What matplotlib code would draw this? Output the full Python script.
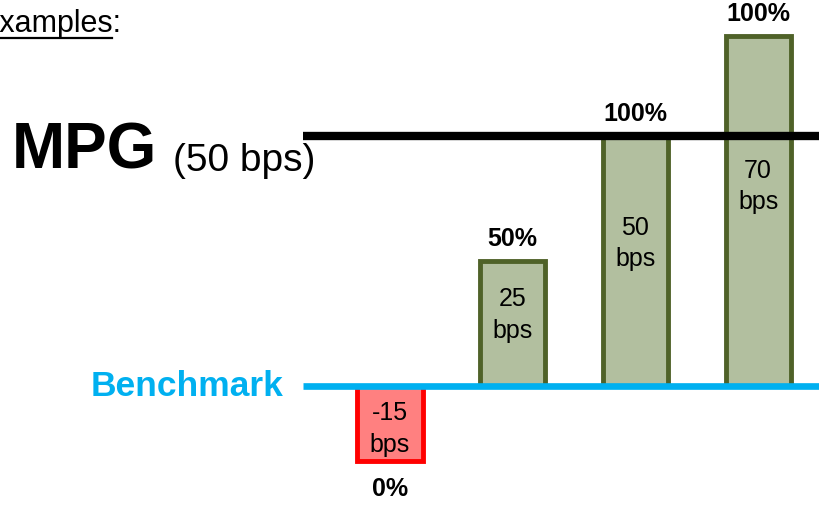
import matplotlib.pyplot as plt
from matplotlib.lines import Line2D

# data
bps = [-15, 25, 50, 70]
payout = ["0%", "50%", "100%", "100%"]
mpg_bps = 50
benchmark_bps = 0

SANS = ["Liberation Sans", "DejaVu Sans"]
plt.rcParams["font.family"] = SANS

fig = plt.figure(figsize=(8.19, 5.14), dpi=100)
ax = fig.add_axes([0, 0, 1, 1])
# 5 px per bps, benchmark at y=386 px
ax.set_ylim(-25.6, 77.2)
ax.set_xlim(-3.178, 3.496)
ax.axis("off")

x = list(range(len(bps)))
fill = ["#FF8080" if v < 0 else "#B2BF9F" for v in bps]
edge = ["#FF0000" if v < 0 else "#4F6228" for v in bps]
ax.bar(x, bps, width=0.53, color=fill, edgecolor=edge, linewidth=3.5, zorder=2)

# benchmark and MPG lines
ax.plot([-0.709, 3.6], [benchmark_bps, benchmark_bps], color="#00B0F0", lw=4.8, zorder=3,
        solid_capstyle="butt")
ax.plot([-0.709, 3.6], [mpg_bps, mpg_bps], color="black", lw=6, zorder=4,
        solid_capstyle="butt")

for i, v in enumerate(bps):
    ax.text(i, v * 0.57, f"{v}\nbps", ha="center", va="center", fontsize=18,
            linespacing=1.4, zorder=5)
    if v >= 0:
        ax.text(i, v + 4.4, payout[i], ha="center", va="center", fontsize=18,
                fontweight="bold", zorder=5)
    else:
        ax.text(i, v - 5.6, payout[i], ha="center", va="center", fontsize=18,
                fontweight="bold", zorder=5)

ax.text(-0.87, benchmark_bps, "Benchmark", ha="right", va="center", fontsize=25.5,
        fontweight="bold", color="#00B0F0")
ax.text(-3.08, mpg_bps - 6.4, "MPG", ha="left", va="baseline", fontsize=46,
        fontweight="bold")
ax.text(-1.77, mpg_bps - 7.0, f"({mpg_bps} bps)", ha="left", va="baseline", fontsize=28)

# cropped heading at top-left
fig.text(122 / 819, 1 - 32 / 514, "Examples:", ha="right", va="baseline", fontsize=22)
fig.add_artist(Line2D([0, 112 / 819], [1 - 38 / 514, 1 - 38 / 514], color="black", lw=1.6))

fig.savefig("out.png", dpi=100)
